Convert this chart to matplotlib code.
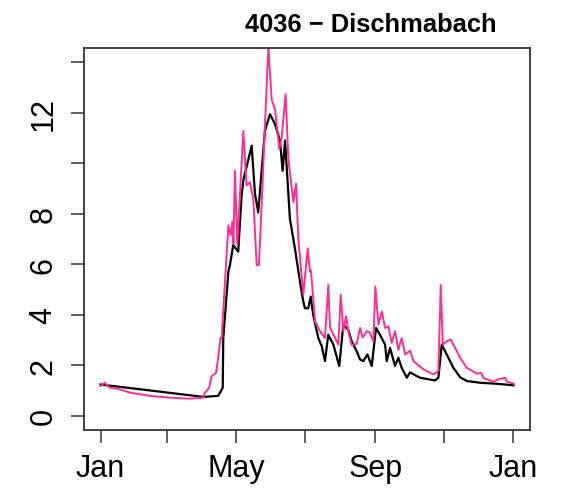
import matplotlib
matplotlib.use("Agg")
import matplotlib.pyplot as plt
import numpy as np

plt.rcParams['font.family'] = ['Liberation Sans', 'DejaVu Sans']

title = "4036 \u2212 Dischmabach"

# daily discharge (m3/s), day of year -> value
obs_day = [0, 91, 104, 108, 108.5, 113, 114.4, 117.3, 121.7, 124.7, 126.5, 129, 133.6, 136.5,
           139.4, 145.3, 149.8, 154.2, 158.6, 161, 163.1, 167.4, 171.9, 176.3, 179.2, 180.7,
           183.6, 185.8, 188, 192.5, 195.5, 198.4, 201.3, 205.8, 211, 214.6, 219, 222, 226.4,
           229.4, 232.3, 235.9, 239.7, 243.5, 247, 251.5, 253, 255.9, 260.3, 263.2, 266.2,
           270.7, 273.6, 278, 282.4, 295.7, 298.6, 301.6, 306, 311.9, 317.8, 323.7, 335.5,
           350.3, 365]
obs_q = [1.24, 0.75, 0.79, 1.11, 3.08, 5.7, 5.97, 6.76, 6.5, 8.72, 9.4, 9.84, 10.69, 8.8,
         8.05, 11.28, 11.94, 11.55, 10.9, 9.7, 10.9, 7.8, 6.6, 5.31, 4.53, 4.26,
         4.26, 4.72, 4.0, 3.08, 2.76, 2.17, 3.21, 2.82, 1.97, 3.61, 3.4, 2.95, 2.56,
         2.23, 2.17, 2.43, 1.97, 3.48, 3.21, 2.82, 2.17, 2.69, 1.97, 2.3, 1.9,
         1.51, 1.72, 1.61, 1.51, 1.40, 1.51, 2.82, 2.43, 1.90, 1.53, 1.38, 1.31,
         1.27, 1.21]

sim_day = [0, 3.8, 8, 17, 26, 43.6, 61.3, 79, 90.8, 92.3, 96, 98.1, 100.2, 102, 104, 106,
           107, 113, 115, 116.4, 117.5, 118.8, 120.9, 126.2, 129.1, 132, 135, 138, 140,
           142.4, 145.3, 148.3, 151.3, 154.2, 158, 160, 163.6, 166, 170.4, 172.8, 174.8,
           179.2, 183.1, 185.1, 186, 189.6, 194, 198.4, 201.3, 202.8, 207.3, 210.2, 212.3,
           214.6, 217, 219, 222, 226.4, 229.4, 231.6, 235.3, 238, 241.1, 242.9, 245.6,
           248.6, 251.5, 254.4, 257.3, 260.3, 263.2, 266.2, 269.2, 273.6, 276.5, 285.4,
           294.2, 298.6, 300.7, 302.5, 306, 309.6, 313.4, 317.8, 323.7, 332.6, 336.5,
           338.5, 347.3, 350, 357.6, 359, 365]
sim_q = [1.18, 1.31, 1.12, 1.05, 0.92, 0.79, 0.72, 0.68, 0.72, 0.92, 1.11, 1.57, 1.64, 1.68,
         2.3, 3.08, 3.08, 7.54, 7.15, 7.68, 6.82, 9.71, 6.76, 11.28, 9.12, 9.25, 8.6, 5.97,
         5.97, 8.33, 11.48, 14.6, 12.5, 12.14, 10.56, 10.96, 12.73, 10.17, 8.46, 9.19,
         7.02, 4.79, 6.63, 5.71, 5.75, 3.74, 3.35, 3.08, 5.18, 3.5, 3.08, 2.82, 4.79,
         3.35, 3.94, 3.35, 2.8, 2.85, 3.48, 3.1, 3.35, 3.3, 2.95, 5.12, 3.61,
         4.13, 3.48, 3.54, 2.89, 3.35, 2.62, 3.08, 2.43, 2.58, 2.17, 1.84,
         1.64, 1.77, 5.18, 2.82, 2.95, 3.02, 2.69, 2.3, 1.90, 1.67, 1.70,
         1.50, 1.35, 1.42, 1.51, 1.36, 1.27]

month_days = [0, 59, 120, 181, 243, 304, 365]
month_labels = ["Jan", "", "May", "", "Sep", "", "Jan"]
y_ticks = [0, 2, 4, 6, 8, 10, 12, 14]
y_labels = ["0", "2", "4", "6", "8", "", "12", ""]

fig = plt.figure(figsize=(5.61, 4.89), dpi=100)
ax = fig.add_axes([84 / 561, 58 / 489, 446 / 561, 382 / 489])

ax.plot(obs_day, obs_q, color="black", lw=1.6, solid_joinstyle="round")
ax.plot(sim_day, sim_q, color="#FF2D96", lw=1.4, solid_joinstyle="round")

# R-style 4% axis padding
ax.set_xlim(-0.04 * 365, 365 * 1.04)
ax.set_ylim(-0.04 * 14, 14 * 1.04)

ax.set_xticks(month_days)
ax.set_xticklabels(month_labels)
ax.set_yticks(y_ticks)
ax.set_yticklabels(y_labels, rotation=90, va="center")

ax.tick_params(axis="both", length=9.4, width=1.1, color="#333333", labelsize=22)
ax.tick_params(axis="x", pad=7)
ax.tick_params(axis="y", pad=9)

for s in ax.spines.values():
    s.set_color("#333333")
    s.set_linewidth(1.3)

fig.text(371 / 561, 1 - 31.7 / 489, title, ha="center", va="baseline",
         fontsize=18.4, fontweight="bold")

fig.savefig("out.png", dpi=100)
